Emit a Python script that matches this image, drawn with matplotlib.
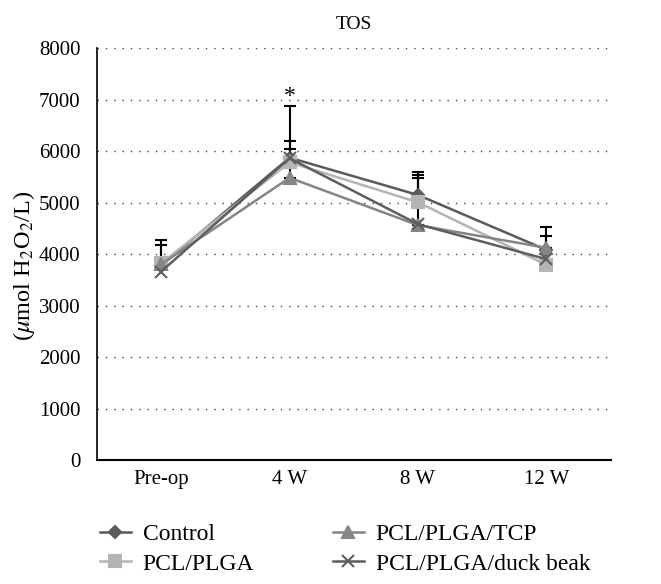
import matplotlib
matplotlib.use('Agg')
import matplotlib.pyplot as plt
import numpy as np

# data
timepoints = ['Pre-op', '4 W', '8 W', '12 W']
groups = ['Control', 'PCL/PLGA', 'PCL/PLGA/TCP', 'PCL/PLGA/duck beak']

control = [3780, 5870, 5146, 4080]
pcl_plga = [3820, 5780, 5004, 3790]
pcl_plga_tcp = [3800, 5480, 4560, 4120]
duck_beak = [3660, 5860, 4580, 3900]

# upper error (SD) only
control_err = [500, 1000, 450, 450]
pcl_plga_err = [350, 420, 530, 0]
pcl_plga_tcp_err = [0, 560, 910, 235]
duck_beak_err = [0, 0, 0, 0]

plt.rcParams['font.family'] = ['Liberation Serif', 'DejaVu Serif']
plt.rcParams['mathtext.fontset'] = 'stix'
plt.rcParams['font.size'] = 15

fig = plt.figure(figsize=(6.61, 5.84), dpi=100)
ax = fig.add_axes([0.1467, 0.2123, 0.777, 0.7055])

x = np.arange(len(timepoints))

series = [
    (control, control_err, '#5a5a5a', 'D', 6),
    (pcl_plga, pcl_plga_err, '#b4b4b4', 's', 8),
    (pcl_plga_tcp, pcl_plga_tcp_err, '#858585', '^', 9),
    (duck_beak, duck_beak_err, '#5e5e5e', 'x', 8),
]

for (vals, err, col, mk, ms), name in zip(series, groups):
    ax.plot(x, vals, color=col, marker=mk, markersize=ms, linewidth=1.8,
            markeredgewidth=1.5, label=name, zorder=3)
    err = np.array(err)
    keep = err > 0
    ax.errorbar(x[keep], np.array(vals)[keep],
                yerr=[np.zeros(keep.sum()), err[keep]],
                fmt='none', ecolor='black', elinewidth=1.5, capsize=4,
                capthick=1.5, zorder=2)

ax.text(1, 7060, '*', ha='center', va='center', fontsize=17)

ax.set_xlim(-0.5, 3.5)
ax.set_ylim(0, 8000)
ax.set_yticks(np.arange(0, 8001, 1000))
ax.set_xticks(x)
ax.set_xticklabels(timepoints)
ax.tick_params(length=0, pad=12)
ax.tick_params(axis='x', pad=7)
ax.yaxis.grid(True, linestyle=(0, (1, 5)), color='#444444', linewidth=1)
ax.set_axisbelow(True)
for s in ['top', 'right']:
    ax.spines[s].set_visible(False)
ax.spines['left'].set_linewidth(1.2)
ax.spines['bottom'].set_linewidth(1.5)

ax.set_ylabel(r'($\mu$mol H$_2$O$_2$/L)', fontsize=17.5)
ax.yaxis.set_label_coords(-0.117, 0.47)
ax.set_title('TOS', fontsize=14, pad=14)

ax.legend(loc='upper left', bbox_to_anchor=(-0.017, -0.126), ncol=2,
          frameon=False, borderpad=0, handlelength=1.3, handletextpad=0.5,
          columnspacing=3.35, labelspacing=0.33, fontsize=17)

plt.savefig('out.png', dpi=100)
